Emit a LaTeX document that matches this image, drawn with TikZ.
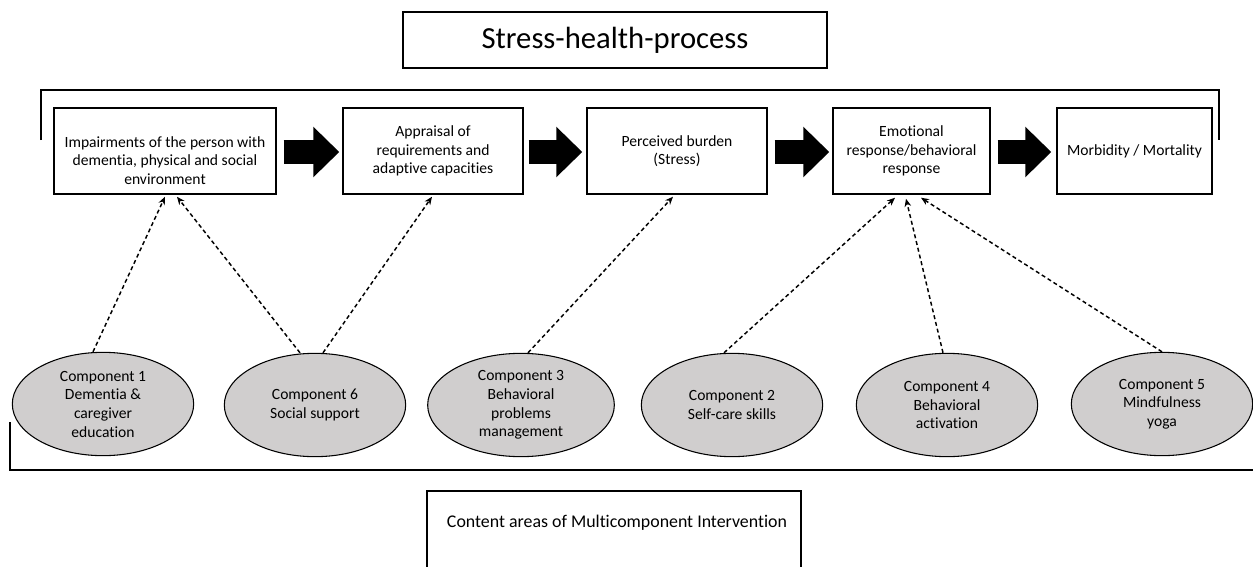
\documentclass[tikz,border=0pt]{standalone}
\usepackage{fontspec}
\setmainfont{Carlito}[Ligatures={TeX,NoCommon}]
\usetikzlibrary{shapes.geometric,arrows.meta,calc}
\definecolor{compgray}{RGB}{208,206,206}
\tikzset{
  txt/.style={font=\fontsize{11.7}{14}\selectfont},
  procbox/.style={draw=black, line width=1.1pt, minimum height=64.5pt, inner sep=0pt, align=center, txt},
  compell/.style={ellipse, draw=black, line width=0.8pt, fill=compgray, minimum width=136pt, minimum height=77.5pt, inner sep=0pt, align=center, txt},
  bigarrow/.style={line width=18pt, -{Triangle[length=19.5pt,width=36.75pt]}},
  dasharrow/.style={line width=1.1pt, dash pattern=on 3pt off 2.2pt, -{Stealth[length=6pt,width=5pt]}},
  bracket/.style={line width=1pt},
}
\begin{document}
\begin{tikzpicture}[x=0.75pt,y=-0.75pt]
\useasboundingbox (0,0) rectangle (1253,567);
% title
\node[draw=black, line width=1.1pt, minimum width=318pt, minimum height=42pt, font=\fontsize{23}{28}\selectfont] (title) at (615,40) {Stress-health-process};
% top bracket
\coordinate (tl) at (41,140);
\coordinate (tr) at (1219,140);
\draw[bracket] (tl) -- (41,90) -- (1219,90) -- (tr);
% process boxes
\node[procbox, minimum width=166.5pt] (b1) at (165,151) {};
\node[align=center, txt] (b1t) at (165,160.5) {Impairments of the person with\\dementia, physical and social\\environment};
\node[procbox, minimum width=135pt] (b2) at (433,151) {Appraisal of\\requirements and\\adaptive capacities};
\node[procbox, minimum width=135pt] (b3) at (677,151) {Perceived burden\\(Stress)};
\node[procbox, minimum width=117.75pt] (b4) at (911.5,151) {Emotional\\response/behavioral\\response};
\node[procbox, minimum width=116.25pt] (b5) at (1134.5,151) {Morbidity / Mortality};
% thick arrows
\draw[bigarrow] ($(b1.east)+(7,1)$) -- ($(b2.west)+(-3,1)$);
\draw[bigarrow] ($(b2.east)+(5,1)$) -- ($(b3.west)+(-4,1)$);
\draw[bigarrow] ($(b3.east)+(7,1)$) -- ($(b4.west)+(-3,1)$);
\draw[bigarrow] ($(b4.east)+(7,1)$) -- ($(b5.west)+(-5,1)$);
% components
\node[compell] (c1) at (103,404) {Component 1\\Dementia \&\\caregiver\\education};
\node[compell] (c6) at (315,405) {Component 6\\Social support};
\node[compell, minimum width=140pt] (c3) at (521,405) {Component 3\\Behavioral\\problems\\management};
\node[compell] (c2) at (732,405) {Component 2\\Self-care skills};
\node[compell] (c4) at (947,405) {Component 4\\Behavioral\\activation};
\node[compell] (c5) at (1162,404) {Component 5\\Mindfulness\\yoga};
% dashed arrows
\draw[dasharrow] ($(c1.north)+(-10,0)$) -- ($(b1.south)+(0,2)$);
\draw[dasharrow] ($(c6.north)+(-15,0)$) -- ($(b1.south)+(12,2)$);
\draw[dasharrow] ($(c6.north)+(8,0)$) -- ($(b2.south)+(-1,2)$);
\draw[dasharrow] ($(c3.north)+(7,0)$) -- ($(b3.south)+(-4,2)$);
\draw[dasharrow] ($(c2.north)+(-8,0)$) -- ($(b4.south)+(-16.5,3)$);
\draw[dasharrow] ($(c4.north)+(-4,0)$) -- ($(b4.south)+(-5.5,4)$);
\draw[dasharrow] ($(c5.north)+(0,0)$) -- ($(b4.south)+(9.5,3)$);
% bottom bracket
\coordinate (bl) at (10,422);
\coordinate (br) at (1253,470);
\draw[bracket] (bl) -- (10,470) -- (br);
% bottom box
\draw[line width=1.1pt] (427,567) -- (427,491) -- (801,491) -- (801,567);
\node[font=\fontsize{13.4}{16}\selectfont] (content) at (617,523) {Content areas of Multicomponent Intervention};
\end{tikzpicture}
\end{document}
